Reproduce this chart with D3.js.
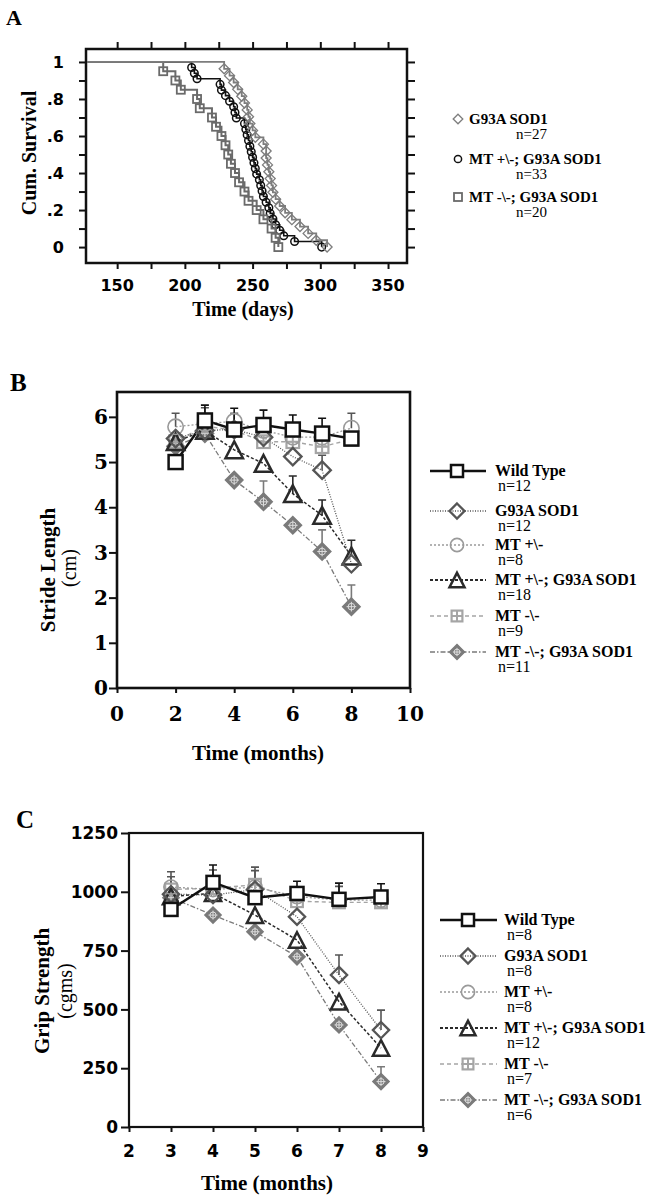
<!DOCTYPE html>
<html><head><meta charset="utf-8">
<script src="https://cdn.jsdelivr.net/npm/d3@7"></script>
<style>body{margin:0;background:#fff}svg{display:block}</style>
</head><body><svg id="c" width="653" height="1199"></svg>
<script>
// ---------- Panel A : Kaplan-Meier survival ----------
const survLabels = ["G93A SOD1", "MT +\\-; G93A SOD1", "MT -\\-; G93A SOD1"];
const survNs = ["n=27", "n=33", "n=20"];
const sodTimes = [229,233,236,239,242,244,246,247,248,250,252,258,260,260,261,262,263,264,265,267,270,274,279,285,291,297,305];
const sodSurv  = [0.963,0.926,0.889,0.852,0.815,0.778,0.741,0.704,0.667,0.630,0.593,0.556,0.519,0.481,0.444,0.407,0.370,0.333,0.296,0.259,0.222,0.185,0.148,0.111,0.074,0.037,0.000];
const hetTimes = [205,207,209,226,227,230,233,236,237,238,244,245,246,247,248,249,250,251,252,253,255,256,257,258,260,262,263,265,267,270,273,281,301];
const hetSurv  = [0.970,0.939,0.909,0.879,0.848,0.818,0.788,0.758,0.727,0.697,0.667,0.636,0.606,0.576,0.545,0.515,0.485,0.455,0.424,0.394,0.364,0.333,0.303,0.273,0.242,0.212,0.182,0.152,0.121,0.091,0.061,0.030,0.000];
const koTimes  = [184,193,197,209,211,220,223,227,230,232,234,237,240,244,247,253,258,264,267,269];
const koSurv   = [0.95,0.90,0.85,0.80,0.75,0.70,0.65,0.60,0.55,0.50,0.45,0.40,0.35,0.30,0.25,0.20,0.15,0.10,0.05,0.00];
const daysTicks = [150,200,250,300,350];
const survTicks = [0,0.2,0.4,0.6,0.8,1];

// ---------- Panels B, C ----------
const groupLabels = ["Wild Type","G93A SOD1","MT +\\-","MT +\\-; G93A SOD1","MT -\\-","MT -\\-; G93A SOD1"];
const strideNs = ["n=12","n=12","n=8","n=18","n=9","n=11"];
const gripNs = ["n=8","n=8","n=8","n=12","n=7","n=6"];

const monthsB = [2,3,4,5,6,7,8];
const strideWT     = [5.00,5.92,5.72,5.82,5.72,5.63,5.52];
const strideWTse   = [null,0.34,0.47,0.33,0.32,0.34,null];
const strideSOD    = [5.52,5.70,5.72,5.55,5.12,4.82,2.75];
const strideSODse  = [null,null,null,null,null,0.33,null];
const strideHet    = [5.78,5.85,5.90,5.70,5.55,5.55,5.75];
const strideHetse  = [0.30,0.35,0.18,null,null,null,0.33];
const strideHetSOD = [5.45,5.70,5.27,4.97,4.30,3.82,2.92];
const strideHetSODse = [null,null,null,null,0.39,0.34,0.35];
const strideKO     = [5.45,5.80,5.70,5.45,5.45,5.34,5.50];
const strideKOse   = [null,null,null,null,null,null,null];
const strideKOSOD  = [5.35,5.63,4.60,4.12,3.60,3.02,1.80];
const strideKOSODse= [null,null,null,0.46,null,0.48,0.48];
const strideXTicks = [0,2,4,6,8,10];
const strideYTicks = [0,1,2,3,4,5,6];

const monthsC = [3,4,5,6,7,8];
const gripWT     = [925,1040,975,993,968,978];
const gripWTse   = [null,74,null,52,69,56];
const gripSOD    = [990,986,1010,894,646,412];
const gripSODse  = [null,null,null,null,85,85];
const gripHet    = [1020,1010,1020,980,965,965];
const gripHetse  = [65,83,85,null,null,null];
const gripHetSOD = [980,994,901,795,533,336];
const gripHetSODse = [null,null,null,null,null,null];
const gripKO     = [1010,1015,1030,960,955,955];
const gripKOse   = [54,null,60,null,68,null];
const gripKOSOD  = [975,901,830,724,434,193];
const gripKOSODse= [null,null,null,null,null,63];
const gripXTicks = [2,3,4,5,6,7,8,9];
const gripYTicks = [0,250,500,750,1000,1250];

// ---------- styles ----------
const SERIF = "'Liberation Serif','Times New Roman',serif";
const styles = [
  {shape:"square",  color:"#111", width:2.4, dash:null},
  {shape:"diamond", color:"#555", width:1.3, dash:"1,1.5"},
  {shape:"circle",  color:"#9a9a9a", width:1.3, dash:"2,2"},
  {shape:"triangle",color:"#2a2a2a", width:1.5, dash:"3,2"},
  {shape:"sqcross", color:"#a5a5a5", width:1.4, dash:"4,3"},
  {shape:"dcross",  color:"#7a7a7a", width:1.3, dash:"5,2,1.5,2"}
];

const svg = d3.select("#c");

function marker(g, shape, color, s) {
  const m = g.append("g");
  if (shape === "square") {
    m.append("rect").attr("x",-s).attr("y",-s).attr("width",2*s).attr("height",2*s)
      .attr("fill","white").attr("stroke",color).attr("stroke-width",2.5);
  } else if (shape === "diamond") {
    const r = s*1.25;
    m.append("path").attr("d",`M0,${-r}L${r},0L0,${r}L${-r},0Z`)
      .attr("fill","none").attr("stroke",color).attr("stroke-width",2.3);
  } else if (shape === "circle") {
    m.append("circle").attr("r",s*1.1).attr("fill","none").attr("stroke",color).attr("stroke-width",1.6);
  } else if (shape === "triangle") {
    const w = s*1.25, h = s*1.2;
    m.append("path").attr("d",`M0,${-h}L${w},${h}L${-w},${h}Z`)
      .attr("fill","none").attr("stroke",color).attr("stroke-width",2.5).attr("stroke-linejoin","miter");
  } else if (shape === "sqcross") {
    const q = s*0.9;
    m.append("rect").attr("x",-q).attr("y",-q).attr("width",2*q).attr("height",2*q)
      .attr("fill","none").attr("stroke",color).attr("stroke-width",2.2);
    m.append("path").attr("d",`M${-q},0H${q}M0,${-q}V${q}`).attr("stroke",color).attr("stroke-width",2);
  } else if (shape === "dcross") {
    const r = s*1.25;
    m.append("path").attr("d",`M0,${-r}L${r},0L0,${r}L${-r},0Z`)
      .attr("fill",color).attr("stroke",color).attr("stroke-width",1.5);
    m.append("circle").attr("r",r*0.38).attr("fill","none").attr("stroke","#ddd").attr("stroke-width",1);
    m.append("path").attr("d",`M${-r*0.55},0H${r*0.55}M0,${-r*0.55}V${r*0.55}`)
      .attr("stroke","#ddd").attr("stroke-width",1);
  } else if (shape === "kmsq") {
    m.append("rect").attr("x",-s).attr("y",-s).attr("width",2*s).attr("height",2*s)
      .attr("fill","none").attr("stroke",color).attr("stroke-width",1.8);
  } else if (shape === "kmdiam") {
    m.append("path").attr("d",`M0,${-s}L${s},0L0,${s}L${-s},0Z`)
      .attr("fill","none").attr("stroke",color).attr("stroke-width",1.3);
  } else if (shape === "kmcirc") {
    m.append("circle").attr("r",s).attr("fill","none").attr("stroke",color).attr("stroke-width",1.5);
  }
  return m;
}

// ================= Panel A =================
{
  const x = d3.scaleLinear().domain([127,364]).range([86,407]);
  const y = d3.scaleLinear().domain([-0.086,1.07]).range([263,49]);
  const g = svg.append("g");
  svg.append("text").attr("x",6).attr("y",25).text("A")
    .attr("font-family",SERIF).attr("font-weight","bold").attr("font-size",22);

  const tickFont = "'DejaVu Sans',Verdana,sans-serif";
  const minorX = d3.range(150, 351, 25), minorY = d3.range(0, 1.01, 0.1);
  g.append("g").attr("transform","translate(0,263)").call(d3.axisBottom(x).tickValues(minorX).tickSize(6).tickFormat(""));
  g.append("g").attr("transform","translate(0,49)").call(d3.axisTop(x).tickValues(minorX).tickSize(7).tickFormat(""));
  g.append("g").attr("transform","translate(86,0)").call(d3.axisLeft(y).tickValues(minorY).tickSize(7).tickFormat(""));
  g.append("g").attr("transform","translate(407,0)").call(d3.axisRight(y).tickValues(minorY).tickSize(8).tickFormat(""));
  g.selectAll(".domain").remove();
  g.selectAll(".tick line").attr("stroke","#111").attr("stroke-width",2);
  g.append("rect").attr("x",86).attr("y",49).attr("width",321).attr("height",214)
    .attr("fill","none").attr("stroke","#111").attr("stroke-width",2.5);

  // tick labels
  g.selectAll(".xl").data(daysTicks).enter().append("text")
    .attr("x",d=>x(d)).attr("y",291).attr("text-anchor","middle").text(d=>d)
    .attr("font-family",tickFont).attr("font-weight","bold").attr("font-size",16);
  g.selectAll(".yl").data(survTicks).enter().append("text")
    .attr("x",64).attr("y",d=>y(d)).attr("dy","0.36em").attr("text-anchor","end")
    .text(d=> d===1 ? "1" : d===0 ? "0" : d3.format(".1f")(d).replace(/^0/,""))
    .attr("font-family",tickFont).attr("font-weight","bold").attr("font-size",16);

  svg.append("text").attr("transform","translate(29,153) rotate(-90)").attr("dy","0.35em")
    .attr("text-anchor","middle").text("Cum. Survival")
    .attr("font-family",SERIF).attr("font-weight","bold").attr("font-size",20);
  svg.append("text").attr("x",243).attr("y",316).attr("text-anchor","middle").text("Time (days)")
    .attr("font-family",SERIF).attr("font-weight","bold").attr("font-size",20);

  const km = [
    {t:hetTimes, s:hetSurv, color:"#111", w:1.6, shape:"kmcirc", size:3.8},
    {t:koTimes,  s:koSurv,  color:"#6a6a6a", w:2, shape:"kmsq", size:4},
    {t:sodTimes, s:sodSurv, color:"#7d7d7d", w:1.8, shape:"kmdiam", size:5}
  ];
  const line = d3.line().x(d=>x(d[0])).y(d=>y(d[1])).curve(d3.curveStepAfter);
  km.forEach(k=>{
    const pts = [[x.domain()[0]+1,1]].concat(k.t.map((t,i)=>[t,k.s[i]]));
    g.append("path").attr("d",line(pts)).attr("fill","none").attr("stroke",k.color).attr("stroke-width",k.w);
    k.t.forEach((t,i)=>{
      marker(g,k.shape,k.color,k.size).attr("transform",`translate(${x(t)},${y(k.s[i])})`);
    });
  });

  // legend
  const legShapes = [["kmdiam","#7d7d7d",4.8],["kmcirc","#111",3.6],["kmsq","#6a6a6a",4]];
  const legY = [124,164,202];
  survLabels.forEach((lab,i)=>{
    marker(svg,legShapes[i][0],legShapes[i][1],legShapes[i][2]).attr("transform",`translate(458,${legY[i]-5})`);
    svg.append("text").attr("x",469).attr("y",legY[i]).text(lab)
      .attr("font-family",SERIF).attr("font-weight","bold").attr("font-size",15);
    svg.append("text").attr("x",516).attr("y",legY[i]+15).text(survNs[i])
      .attr("font-family",SERIF).attr("font-size",15);
  });
}

// ========== helper for line/error panels ==========
function linePanel(opt) {
  const g = svg.append("g");
  const x = d3.scaleLinear().domain(opt.xDom).range([opt.L,opt.R]);
  const y = d3.scaleLinear().domain(opt.yDom).range([opt.B,opt.T]);

  g.append("g").attr("transform",`translate(0,${opt.B})`)
    .call(d3.axisBottom(x).tickValues(opt.xTicks).tickSize(opt.xTick).tickFormat(""));
  g.append("g").attr("transform",`translate(${opt.L},0)`)
    .call(d3.axisLeft(y).tickValues(opt.yTicks).tickSize(8).tickFormat(""));
  g.selectAll(".domain").remove();
  g.selectAll(".tick line").attr("stroke","#111").attr("stroke-width",2);
  g.append("rect").attr("x",opt.L).attr("y",opt.T).attr("width",opt.R-opt.L).attr("height",opt.B-opt.T)
    .attr("fill","none").attr("stroke","#111").attr("stroke-width",opt.frameW);

  g.selectAll(".xl").data(opt.xTicks).enter().append("text")
    .attr("x",d=>x(d)).attr("y",opt.xLabY).attr("text-anchor","middle").text(d=>d)
    .attr("font-family",opt.tickFont).attr("font-weight","bold").attr("font-size",opt.tickSize);
  g.selectAll(".yl").data(opt.yTicks).enter().append("text")
    .attr("x",opt.yLabX).attr("y",d=>y(d)).attr("dy","0.36em").attr("text-anchor","end").text(d=>d)
    .attr("font-family",opt.tickFont).attr("font-weight","bold").attr("font-size",opt.tickSize);

  const line = d3.line().x((d,i)=>x(opt.months[i])).y(d=>y(d));
  const order = [5,4,3,2,1,0];
  order.forEach(k=>{
    const st = styles[k];
    g.append("path").attr("d",line(opt.series[k])).attr("fill","none")
      .attr("stroke",st.color).attr("stroke-width",k===0?2.4:st.width)
      .attr("stroke-dasharray",st.dash);
  });
  order.forEach(k=>{
    const st = styles[k];
    opt.series[k].forEach((v,i)=>{
      const se = opt.errs[k][i];
      if (se != null) {
        const cx = x(opt.months[i]);
        g.append("path").attr("d",`M${cx},${y(v)}V${y(v+se)}M${cx-4},${y(v+se)}H${cx+4}`)
          .attr("stroke",k===0?"#111":(k===2||k===4?"#555":st.color)).attr("stroke-width",1.6).attr("fill","none");
      }
    });
  });
  order.forEach(k=>{
    const st = styles[k];
    opt.series[k].forEach((v,i)=>{
      marker(g,st.shape,st.color,opt.mSize).attr("transform",`translate(${x(opt.months[i])},${y(v)})`);
    });
  });

  // labels
  svg.append("text").attr("x",opt.letter[0]).attr("y",opt.letter[1]).text(opt.letter[2])
    .attr("font-family",SERIF).attr("font-weight","bold").attr("font-size",25);
  svg.append("text").attr("transform",`translate(${opt.yLab1[0]},${opt.yLab1[1]}) rotate(-90)`).attr("dy","0.35em")
    .attr("text-anchor","middle").text(opt.yLab1[2])
    .attr("font-family",SERIF).attr("font-weight","bold").attr("font-size",21);
  svg.append("text").attr("transform",`translate(${opt.yLab2[0]},${opt.yLab2[1]}) rotate(-90)`).attr("dy","0.35em")
    .attr("text-anchor","middle").text(opt.yLab2[2])
    .attr("font-family",SERIF).attr("font-size",20);
  svg.append("text").attr("x",opt.xLab[0]).attr("y",opt.xLab[1]).attr("text-anchor","middle").text("Time (months)")
    .attr("font-family",SERIF).attr("font-weight","bold").attr("font-size",21);

  // legend
  const lg = opt.legend;
  groupLabels.forEach((lab,k)=>{
    const st = styles[k];
    const yy = lg.ys[k];
    svg.append("line").attr("x1",lg.x1).attr("x2",lg.x2).attr("y1",yy).attr("y2",yy)
      .attr("stroke",st.color).attr("stroke-width",k===0?2.5:(k===3?2:st.width+0.3)).attr("stroke-dasharray",st.dash);
    marker(svg,st.shape,st.color,6).attr("transform",`translate(${lg.mx},${yy})`);
    svg.append("text").attr("x",lg.tx).attr("y",yy+5).text(lab)
      .attr("font-family",SERIF).attr("font-weight","bold").attr("font-size",16);
    svg.append("text").attr("x",lg.nx).attr("y",yy+20).text(opt.ns[k])
      .attr("font-family",SERIF).attr("font-size",16);
  });
}

// ================= Panel B =================
linePanel({
  xDom:[0,10], yDom:[0,6.55], L:117, R:410, T:392, B:688,
  xTicks:strideXTicks, yTicks:strideYTicks, xTick:5, frameW:2.6,
  months:monthsB,
  series:[strideWT,strideSOD,strideHet,strideHetSOD,strideKO,strideKOSOD],
  errs:[strideWTse,strideSODse,strideHetse,strideHetSODse,strideKOse,strideKOSODse],
  mSize:7, tickFont:"'DejaVu Serif',serif", tickSize:20, xLabY:721, yLabX:108,
  letter:[10,391,"B"], yLab1:[48,570,"Stride Length"], yLab2:[69,568,"(cm)"], xLab:[258,760],
  ns:strideNs,
  legend:{x1:430,x2:486,mx:457,tx:495,nx:498,ys:[471,511,545,580,616,652]}
});

// ================= Panel C =================
linePanel({
  xDom:[2,9], yDom:[0,1250], L:129, R:423, T:833, B:1127,
  xTicks:gripXTicks, yTicks:gripYTicks, xTick:5, frameW:2.2,
  months:monthsC,
  series:[gripWT,gripSOD,gripHet,gripHetSOD,gripKO,gripKOSOD],
  errs:[gripWTse,gripSODse,gripHetse,gripHetSODse,gripKOse,gripKOSODse],
  mSize:6.5, tickFont:"'DejaVu Sans',Verdana,sans-serif", tickSize:17, xLabY:1157, yLabX:118,
  letter:[16,828,"C"], yLab1:[42,991,"Grip Strength"], yLab2:[65,991,"(cgms)"], xLab:[267,1190],
  ns:gripNs,
  legend:{x1:440,x2:497,mx:468,tx:504,nx:507,ys:[920,956,992,1028,1064,1100]}
});
</script></body></html>
